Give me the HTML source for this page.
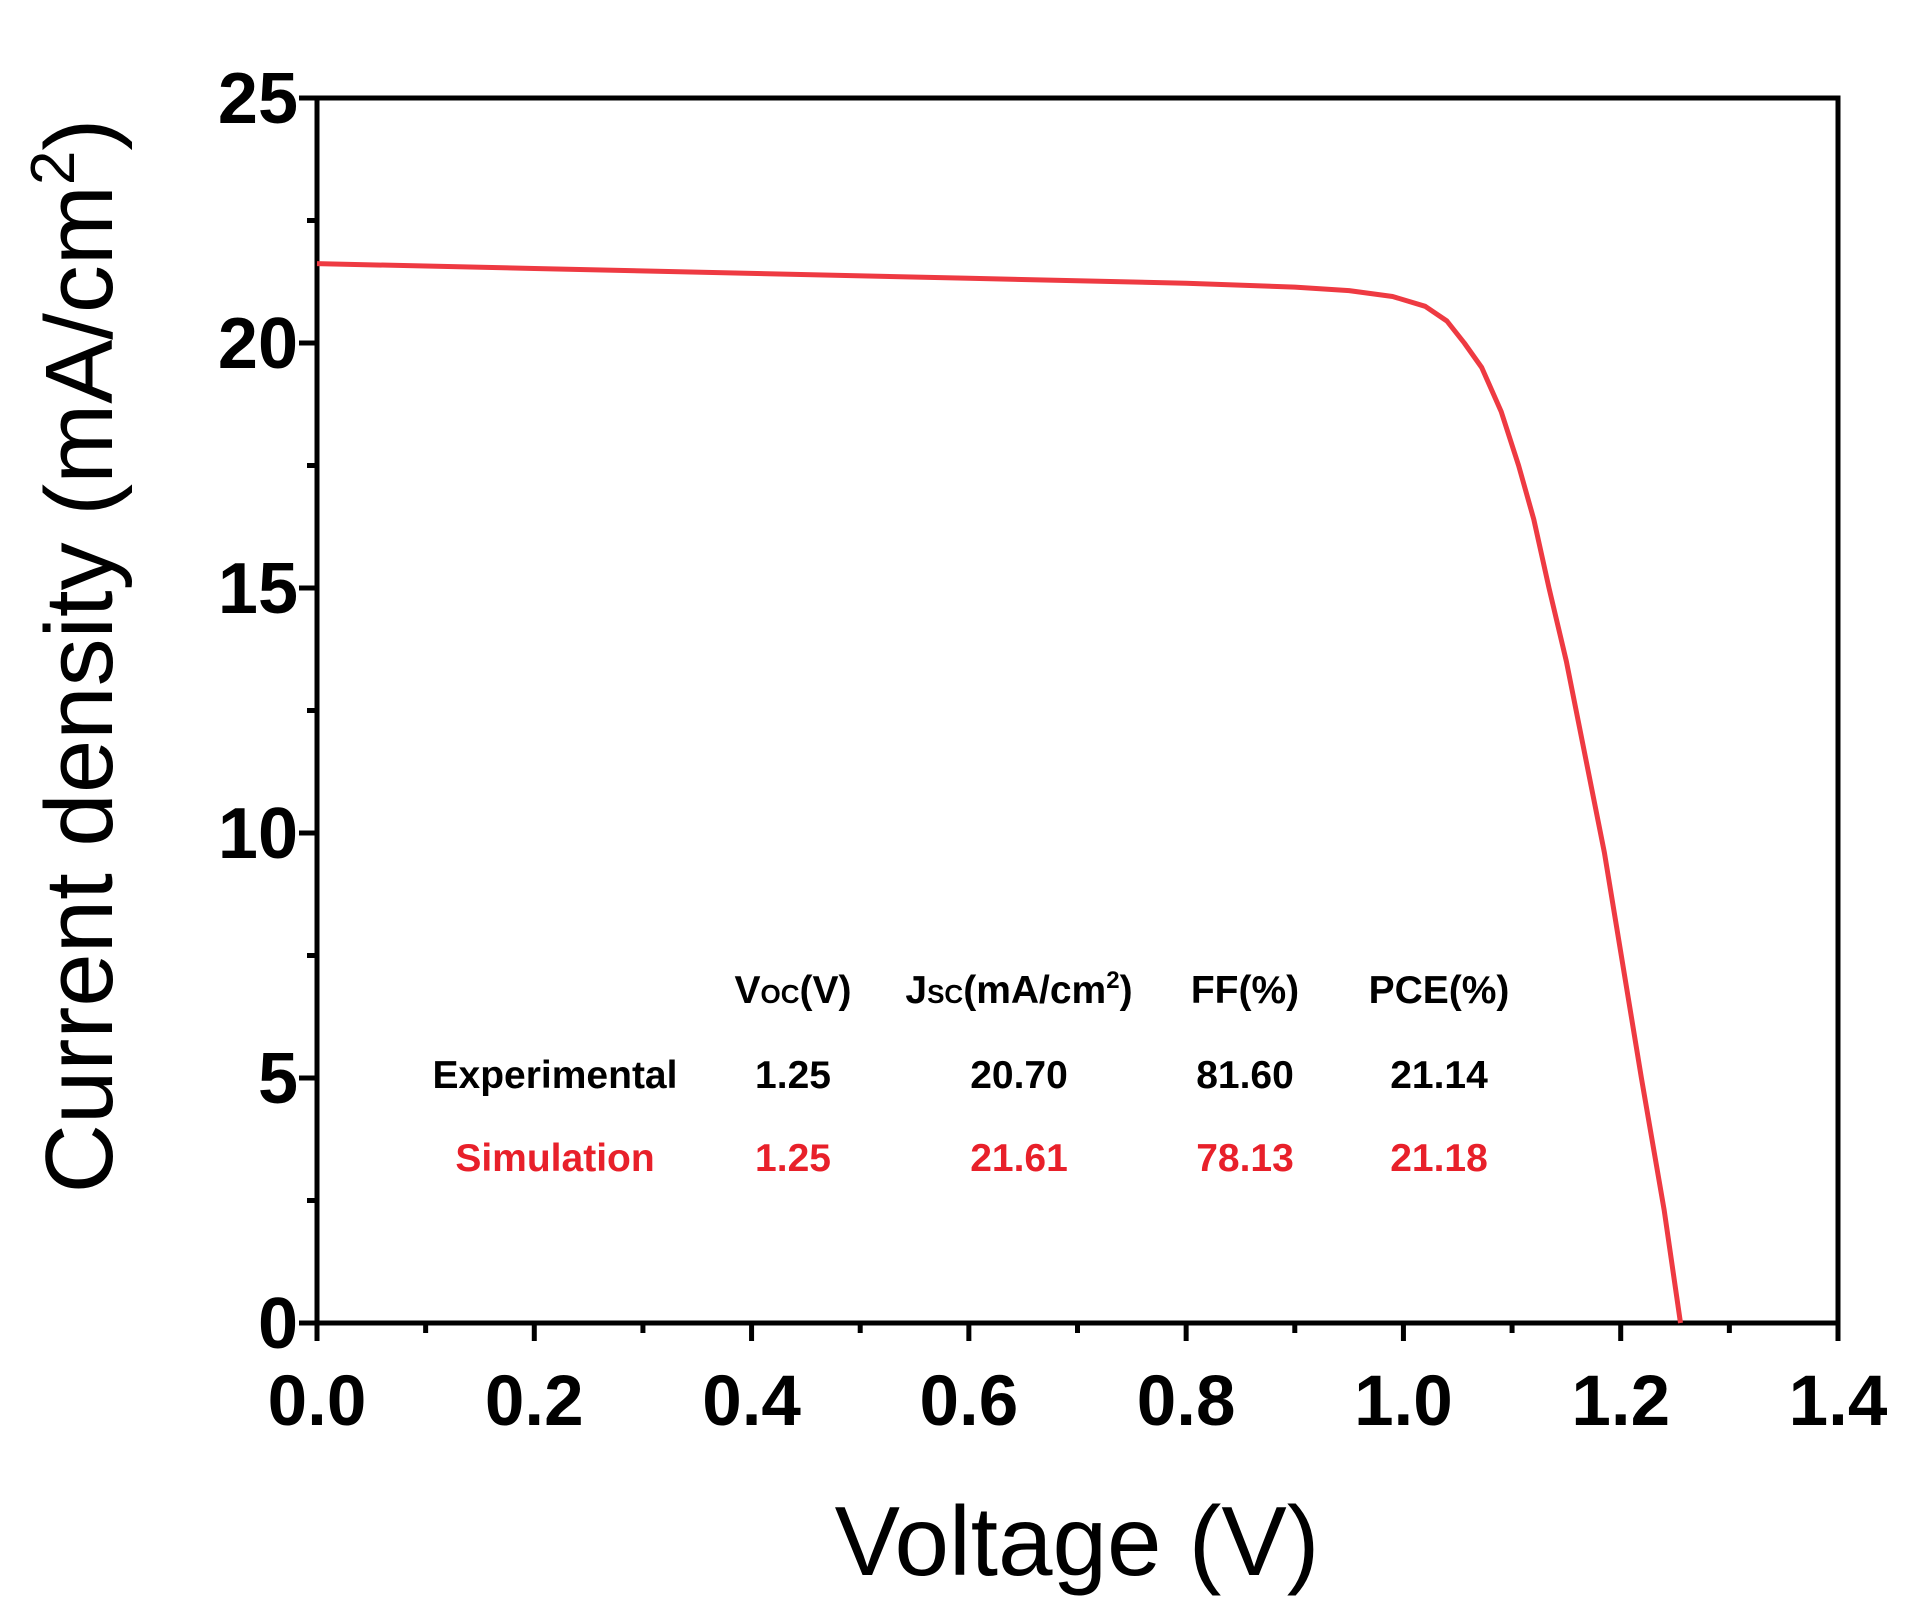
<!DOCTYPE html>
<html><head><meta charset="utf-8"><style>
html,body{margin:0;padding:0;background:#fff;}
svg{display:block;}
text{font-family:"Liberation Sans",Arial,sans-serif;}
</style></head><body>
<svg id="chart" width="1912" height="1607" viewBox="0 0 1912 1607" xmlns="http://www.w3.org/2000/svg">
<g id="axes"></g>
<g id="series"></g>
<g id="table"></g>
<text x="1077" y="1575" font-size="98" text-anchor="middle">Voltage (V)</text>
<text transform="translate(112,656) rotate(-90)" font-size="96" text-anchor="middle">Current density (mA/cm<tspan dy="-38" font-size="62">2</tspan><tspan dy="38">)</tspan></text>
</svg>
<script>
const voltage = [0, 0.2, 0.4, 0.6, 0.8, 0.9, 0.95, 0.99, 1.02, 1.04, 1.056, 1.072, 1.09, 1.106, 1.12, 1.134, 1.15, 1.185, 1.219, 1.24, 1.255];
const current = [21.62, 21.52, 21.42, 21.32, 21.22, 21.14, 21.07, 20.95, 20.75, 20.45, 20.0, 19.5, 18.6, 17.5, 16.4, 15.0, 13.5, 9.6, 5.0, 2.3, 0];
const xTicks = [0, 0.2, 0.4, 0.6, 0.8, 1.0, 1.2, 1.4];
const xTickLabels = ["0.0","0.2","0.4","0.6","0.8","1.0","1.2","1.4"];
const yTicks = [0, 5, 10, 15, 20, 25];
const yTickLabels = ["0","5","10","15","20","25"];
const tableHeaders = ["Voc(V)", "Jsc(mA/cm2)", "FF(%)", "PCE(%)"];
const rowNames = ["Experimental", "Simulation"];
const experimentalValues = ["1.25", "20.70", "81.60", "21.14"];
const simulationValues = ["1.25", "21.61", "78.13", "21.18"];

const NS = "http://www.w3.org/2000/svg";
const L = 317, R = 1838, T = 98, B = 1323;
const xs = v => L + (v - 0) / 1.4 * (R - L);
const ys = v => B - (v - 0) / 25 * (B - T);
function mk(tag, attrs, parent) { const e = document.createElementNS(NS, tag); for (const k in attrs) e.setAttribute(k, attrs[k]); parent.appendChild(e); return e; }
const axes = document.getElementById('axes');
const frame = mk('rect', {x: L, y: T, width: R - L, height: B - T, fill: 'none', stroke: '#000', 'stroke-width': 5}, axes);


xTicks.forEach((v, i) => {
  const t = mk('line', {x1: xs(v), x2: xs(v), y1: B, y2: B + 18, stroke: '#000', 'stroke-width': 5}, axes);
  
  
  const lb = mk('text', {x: xs(v), y: 1425, 'font-size': 71, 'font-weight': 'bold', 'text-anchor': 'middle'}, axes);
  lb.textContent = xTickLabels[i];
  
  
  if (i < xTicks.length - 1) {
    const m = mk('line', {x1: xs(v + 0.1), x2: xs(v + 0.1), y1: B, y2: B + 10, stroke: '#000', 'stroke-width': 5}, axes);
    
    
  }
});
yTicks.forEach((v, i) => {
  const t = mk('line', {x1: L - 18, x2: L, y1: ys(v), y2: ys(v), stroke: '#000', 'stroke-width': 5}, axes);
  
  
  const lb = mk('text', {x: 298, y: ys(v) + 25, 'font-size': 72, 'font-weight': 'bold', 'text-anchor': 'end'}, axes);
  lb.textContent = yTickLabels[i];
  
  
  if (i < yTicks.length - 1) {
    const m = mk('line', {x1: L - 10, x2: L, y1: ys(v + 2.5), y2: ys(v + 2.5), stroke: '#000', 'stroke-width': 5}, axes);
    
    
  }
});
const series = document.getElementById('series');
let d = '';
voltage.forEach((v, i) => { d += (i ? 'L' : 'M') + xs(v).toFixed(1) + ',' + ys(current[i]).toFixed(1); });
const p = mk('path', {d: d, fill: 'none', stroke: '#ee3a42', 'stroke-width': 5, 'stroke-linejoin': 'round'}, series);



const tbl = document.getElementById('table');
const colX = [793, 1019, 1245, 1439];
const fs = 39;
function tx(x, y, s, color, name) {
  const e = mk('text', {x: x, y: y, 'font-size': fs, 'font-weight': 'bold', 'text-anchor': 'middle', fill: color}, tbl);
  
  
  return e;
}
let h = tx(colX[0], 1003, '', '#000', 'header-voc'); h.innerHTML = 'V<tspan font-size="26">OC</tspan>(V)';
h = tx(colX[1], 1003, '', '#000', 'header-jsc'); h.innerHTML = 'J<tspan font-size="26">SC</tspan>(mA/cm<tspan dy="-15" font-size="24">2</tspan><tspan dy="15">)</tspan>';
h = tx(colX[2], 1003, '', '#000', 'header-ff'); h.textContent = tableHeaders[2];
h = tx(colX[3], 1003, '', '#000', 'header-pce'); h.textContent = tableHeaders[3];
tx(555, 1088, '', '#000', 'row-label-experimental').textContent = rowNames[0];
tx(555, 1171, '', '#e8202a', 'row-label-simulation').textContent = rowNames[1];
experimentalValues.forEach((v, i) => { tx(colX[i], 1088, '', '#000', 'experimental-value').textContent = v; });
simulationValues.forEach((v, i) => { tx(colX[i], 1171, '', '#e8202a', 'simulation-value').textContent = v; });
</script>
</body></html>
